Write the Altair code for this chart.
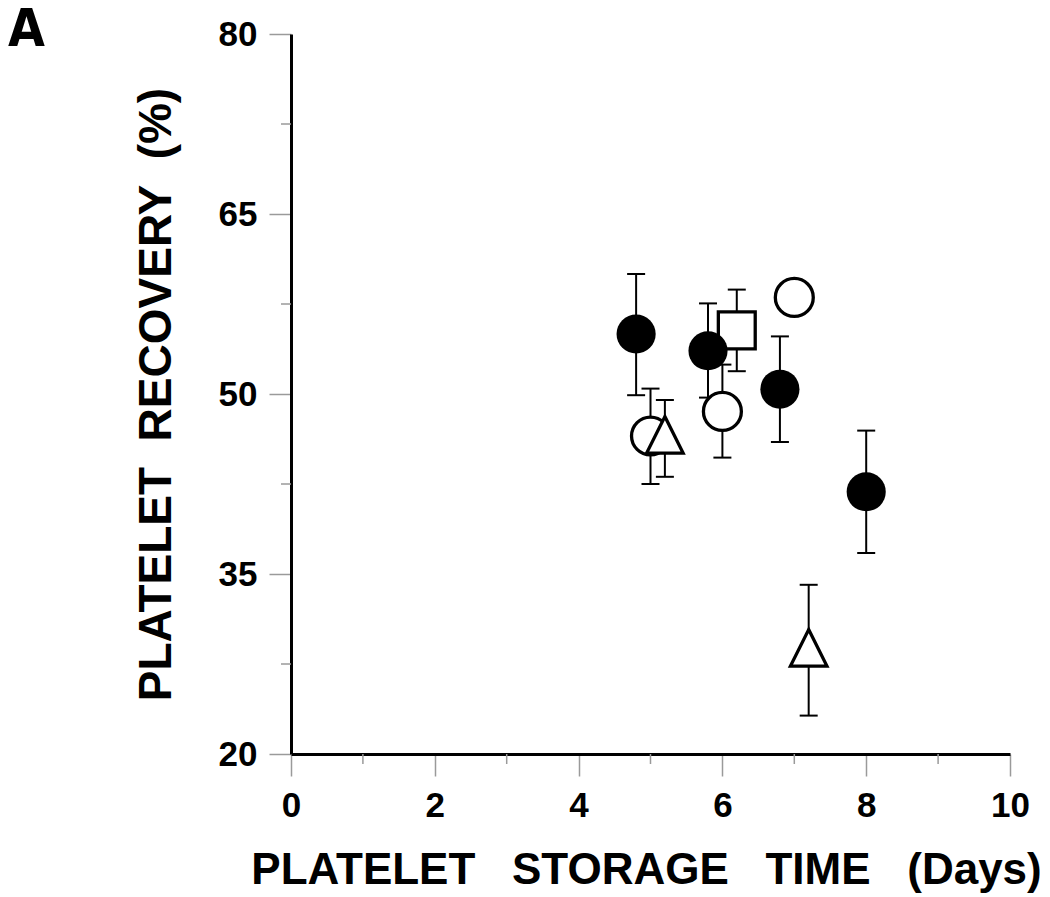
import altair as alt
import pandas as pd

# ---- data ----
fc_x = [4.8, 5.8, 6.8, 8.0]
fc_y = [55.0, 53.6, 50.4, 41.85]
fc_lo = [49.9, 49.7, 46.0, 36.75]
fc_hi = [60.0, 57.55, 54.8, 46.95]

oc_x = [5.0, 6.0, 7.0]
oc_y = [46.5, 48.55, 58.05]
oc_lo = [42.5, 44.7, 56.8]
oc_hi = [50.45, 52.45, 59.1]

sq_x = [6.2]
sq_y = [55.3]
sq_lo = [51.9]
sq_hi = [58.7]

tr_x = [5.2, 7.2]
tr_y = [46.6, 28.85]
tr_lo = [43.1, 23.2]
tr_hi = [49.5, 34.1]

x_major = [0, 2, 4, 6, 8, 10]
x_minor = [1, 3, 5, 7, 9]
y_major = [20, 35, 50, 65, 80]
y_minor = [27.5, 42.5, 57.5, 72.5]

panel_label = ["A"]

NB = "\u00a0"
x_title = f"PLATELET{NB*3}STORAGE{NB*3}TIME{NB*3}(Days)"
y_title = f"PLATELET{NB*2}RECOVERY{NB*2}(%)"

W, H = 719, 720
FONT = "Liberation Sans"

df_fc = pd.DataFrame({"x": fc_x, "y": fc_y})
df_oc = pd.DataFrame({"x": oc_x, "y": oc_y})
df_sq = pd.DataFrame({"x": sq_x, "y": sq_y})
df_tr = pd.DataFrame({"x": tr_x, "y": tr_y})
df_err = pd.DataFrame({
    "x": fc_x + oc_x + sq_x + tr_x,
    "lo": fc_lo + oc_lo + sq_lo + tr_lo,
    "hi": fc_hi + oc_hi + sq_hi + tr_hi,
})
df_xm = pd.DataFrame({"x": x_minor})
df_ym = pd.DataFrame({"y": y_minor})
df_lab = pd.DataFrame({"t": panel_label})

common_axis = dict(
    domainColor="black", domainWidth=3,
    tickColor="#9a9a9a", tickWidth=1.5, tickSize=22,
    labelFont=FONT, labelFontSize=35, labelFontWeight="bold", labelColor="black",
    labelPadding=12, labelFlush=False, labelOverlap=False,
    titleFont=FONT, titleFontWeight="bold", titleColor="black",
    titleBaseline="alphabetic", titleAlign="center",
    grid=False,
)

xaxis = alt.Axis(values=x_major, title=x_title, titleFontSize=44,
                 titleX=355, titleY=129, **common_axis)
yaxis = alt.Axis(values=y_major, title=y_title, titleFontSize=46,
                 titleAngle=270, titleX=-121, titleY=360, **common_axis)

xscale = alt.Scale(domain=[0, 10], nice=False, zero=False)
yscale = alt.Scale(domain=[20, 80], nice=False, zero=False)


def X(field):
    return alt.X(f"{field}:Q", scale=xscale, axis=xaxis, title=x_title)


def Y(field):
    return alt.Y(f"{field}:Q", scale=yscale, axis=yaxis, title=y_title)


err_rule = alt.Chart(df_err).mark_rule(color="black", strokeWidth=2).encode(
    x=X("x"), y=Y("lo"), y2="hi")
cap_lo = alt.Chart(df_err).mark_tick(orient="horizontal", size=18, thickness=2,
                                      color="black", opacity=1).encode(x=X("x"), y=Y("lo"))
cap_hi = alt.Chart(df_err).mark_tick(orient="horizontal", size=18, thickness=2,
                                      color="black", opacity=1).encode(x=X("x"), y=Y("hi"))

open_c = alt.Chart(df_oc).mark_point(shape="circle", size=1440, filled=False, fill="white",
                                     fillOpacity=1, stroke="black", strokeWidth=3.3,
                                     opacity=1).encode(x=X("x"), y=Y("y"))
tri = alt.Chart(df_tr).mark_point(shape="M0,-1L1,1L-1,1Z", size=1330, filled=False, fill="white",
                                  fillOpacity=1, stroke="black", strokeWidth=3.3,
                                  opacity=1).encode(x=X("x"), y=Y("y"))
sq = alt.Chart(df_sq).mark_point(shape="square", size=1360, filled=False, fill="white",
                                 fillOpacity=1, stroke="black", strokeWidth=3.3,
                                 opacity=1).encode(x=X("x"), y=Y("y"))
fill_c = alt.Chart(df_fc).mark_point(shape="circle", size=1530, filled=True, color="black",
                                     opacity=1).encode(x=X("x"), y=Y("y"))

xminor = alt.Chart(df_xm).mark_rule(color="#9a9a9a", strokeWidth=1.5).encode(
    x=X("x"), y=alt.value(H), y2=alt.value(H + 10))
yminor = alt.Chart(df_ym).mark_rule(color="#9a9a9a", strokeWidth=1.5).encode(
    y=Y("y"), x=alt.value(-10), x2=alt.value(0))

label = alt.Chart(df_lab).mark_text(
    font="Liberation Sans Narrow, DejaVu Sans Condensed, Liberation Sans",
    fontWeight="bold", fontSize=53, align="left", baseline="alphabetic",
    color="black").encode(text="t:N", x=alt.value(-283), y=alt.value(12))

chart = alt.layer(
    xminor, yminor, err_rule, cap_lo, cap_hi, open_c, tri, sq, fill_c, label
).properties(
    width=W, height=H,
    autosize=alt.AutoSizeParams(type="none"),
    padding={"left": 283, "top": 26, "right": 30, "bottom": 141},
    background="white",
).configure_view(stroke=None)

chart.save("out.html", embed_options={"renderer": "svg", "actions": False})
